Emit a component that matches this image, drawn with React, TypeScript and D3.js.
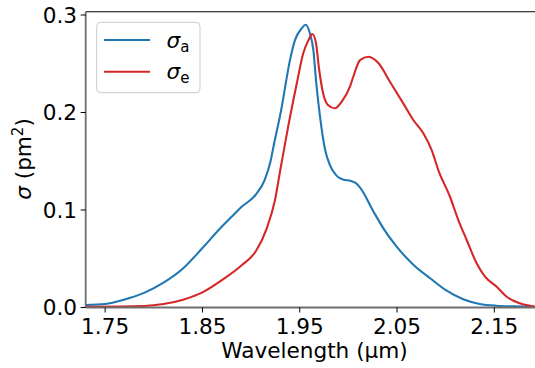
import React from "react";
import * as d3 from "d3";

const wlA = [1.73, 1.75, 1.77, 1.79, 1.81, 1.83, 1.85, 1.87, 1.88, 1.89, 1.905, 1.914, 1.92, 1.923, 1.931, 1.94, 1.945, 1.952, 1.956, 1.9605, 1.964, 1.967, 1.9708, 1.976, 1.981, 1.988, 1.995, 2.002, 2.007, 2.012, 2.026, 2.038, 2.05, 2.067, 2.084, 2.101, 2.118, 2.135, 2.152, 2.17, 2.192];
const sigmaA = [0.0026, 0.0036, 0.0082, 0.015, 0.0255, 0.04, 0.061, 0.083, 0.093, 0.103, 0.116, 0.131, 0.15, 0.165, 0.203, 0.254, 0.274, 0.2864, 0.29, 0.281, 0.264, 0.23, 0.196, 0.162, 0.146, 0.135, 0.131, 0.13, 0.128, 0.123, 0.098, 0.078, 0.062, 0.0436, 0.03, 0.0172, 0.0084, 0.0036, 0.0018, 0.0012, 0.0008];

const wlE = [1.73, 1.79, 1.81, 1.83, 1.85, 1.87, 1.89, 1.905, 1.916, 1.9245, 1.93, 1.938, 1.947, 1.9536, 1.9588, 1.963, 1.9667, 1.97, 1.974, 1.979, 1.986, 1.993, 2.0016, 2.005, 2.012, 2.0205, 2.031, 2.0427, 2.0564, 2.0667, 2.077, 2.0856, 2.0924, 2.1044, 2.113, 2.1216, 2.1318, 2.1404, 2.1524, 2.1627, 2.1763, 2.192];
const sigmaE = [0.0008, 0.0015, 0.0035, 0.008, 0.0155, 0.028, 0.043, 0.058, 0.081, 0.11, 0.141, 0.185, 0.23, 0.2607, 0.274, 0.2805, 0.271, 0.2436, 0.2197, 0.2077, 0.2043, 0.211, 0.2265, 0.2367, 0.2538, 0.2572, 0.2505, 0.2316, 0.2094, 0.1923, 0.1787, 0.1615, 0.141, 0.1136, 0.0897, 0.0692, 0.0453, 0.0316, 0.0213, 0.011, 0.0043, 0.0008];

const xTicks = [1.75, 1.85, 1.95, 2.05, 2.15];
const yTicks = [0.0, 0.1, 0.2, 0.3];

const W = 535;
const H = 368;
const FONT = "'DejaVu Sans', sans-serif";
const BLUE = "#1f77b4";
const RED = "#d62728";
const FS = 21.6;
const SUB = 15;

export default function App() {
  const x = d3.scaleLinear().domain([1.73, 2.192]).range([85.7, 535.2]);
  const y = d3.scaleLinear().domain([0, 0.3034]).range([307.5, 11.7]);
  const line = d3
    .line<[number, number]>()
    .x((d) => x(d[0]))
    .y((d) => y(d[1]))
    .curve(d3.curveMonotoneX);
  const dA = line(wlA.map((w, i) => [w, sigmaA[i]] as [number, number])) || "";
  const dE = line(wlE.map((w, i) => [w, sigmaE[i]] as [number, number])) || "";
  const left = x.range()[0];
  const right = x.range()[1];
  const bottom = y.range()[0];
  const top = y.range()[1];

  return (
    <svg
      width={W}
      height={H}
      style={{ position: "absolute", left: 0, top: 0, background: "#fff" }}
      fontFamily={FONT}
    >
      <defs>
        <clipPath id="plot">
          <rect x={left} y={top} width={right - left} height={bottom - top} />
        </clipPath>
      </defs>
      <rect x={0} y={0} width={W} height={H} fill="#fff" />
      <g clipPath="url(#plot)" fill="none" strokeWidth={2.1} strokeLinejoin="round" strokeLinecap="round">
        <path d={dA} stroke={BLUE} />
        <path d={dE} stroke={RED} />
      </g>
      {/* spines */}
      <line x1={left} x2={right} y1={top} y2={top} stroke="#000" strokeWidth={1.1} />
      <line x1={left} x2={left} y1={top} y2={bottom} stroke="#6e6e6e" strokeWidth={1.8} />
      <line x1={left} x2={right} y1={bottom} y2={bottom} stroke="#6e6e6e" strokeWidth={1.8} />
      {/* x ticks */}
      {xTicks.map((t) => (
        <g key={"x" + t}>
          <line x1={x(t)} x2={x(t)} y1={bottom} y2={bottom + 5} stroke="#000" strokeWidth={1} />
          <text x={x(t)} y={333.5} fontSize={FS} textAnchor="middle" fill="#000">
            {t.toFixed(2)}
          </text>
        </g>
      ))}
      {/* y ticks */}
      {yTicks.map((t) => (
        <g key={"y" + t}>
          <line x1={left - 5} x2={left} y1={y(t)} y2={y(t)} stroke="#000" strokeWidth={1} />
          <text x={77} y={y(t) + 7.8} fontSize={FS} textAnchor="end" fill="#000">
            {t.toFixed(1)}
          </text>
        </g>
      ))}
      {/* axis labels */}
      <text x={314.5} y={358} fontSize={FS} textAnchor="middle" fill="#000">
        Wavelength (μm)
      </text>
      <text transform="translate(31,159) rotate(-90)" fontSize={FS} textAnchor="middle" fill="#000">
        <tspan fontStyle="italic">σ</tspan>
        <tspan> (pm</tspan>
        <tspan fontSize={SUB} dy={-8.5}>2</tspan>
        <tspan dy={8.5}>)</tspan>
      </text>
      {/* legend */}
      <rect x={96.7} y={22.3} width={103.3} height={70.4} rx={4} ry={4} fill="#fff" fillOpacity={0.8} stroke="#cccccc" strokeWidth={1} />
      <line x1={104} x2={150} y1={40} y2={40} stroke={BLUE} strokeWidth={2.1} />
      <line x1={104} x2={150} y1={71.7} y2={71.7} stroke={RED} strokeWidth={2.1} />
      <text x={166.5} y={47.5} fontSize={FS} fill="#000">
        <tspan fontStyle="italic">σ</tspan>
        <tspan fontSize={SUB} dy={4}>a</tspan>
      </text>
      <text x={166.5} y={79} fontSize={FS} fill="#000">
        <tspan fontStyle="italic">σ</tspan>
        <tspan fontSize={SUB} dy={4}>e</tspan>
      </text>
    </svg>
  );
}
